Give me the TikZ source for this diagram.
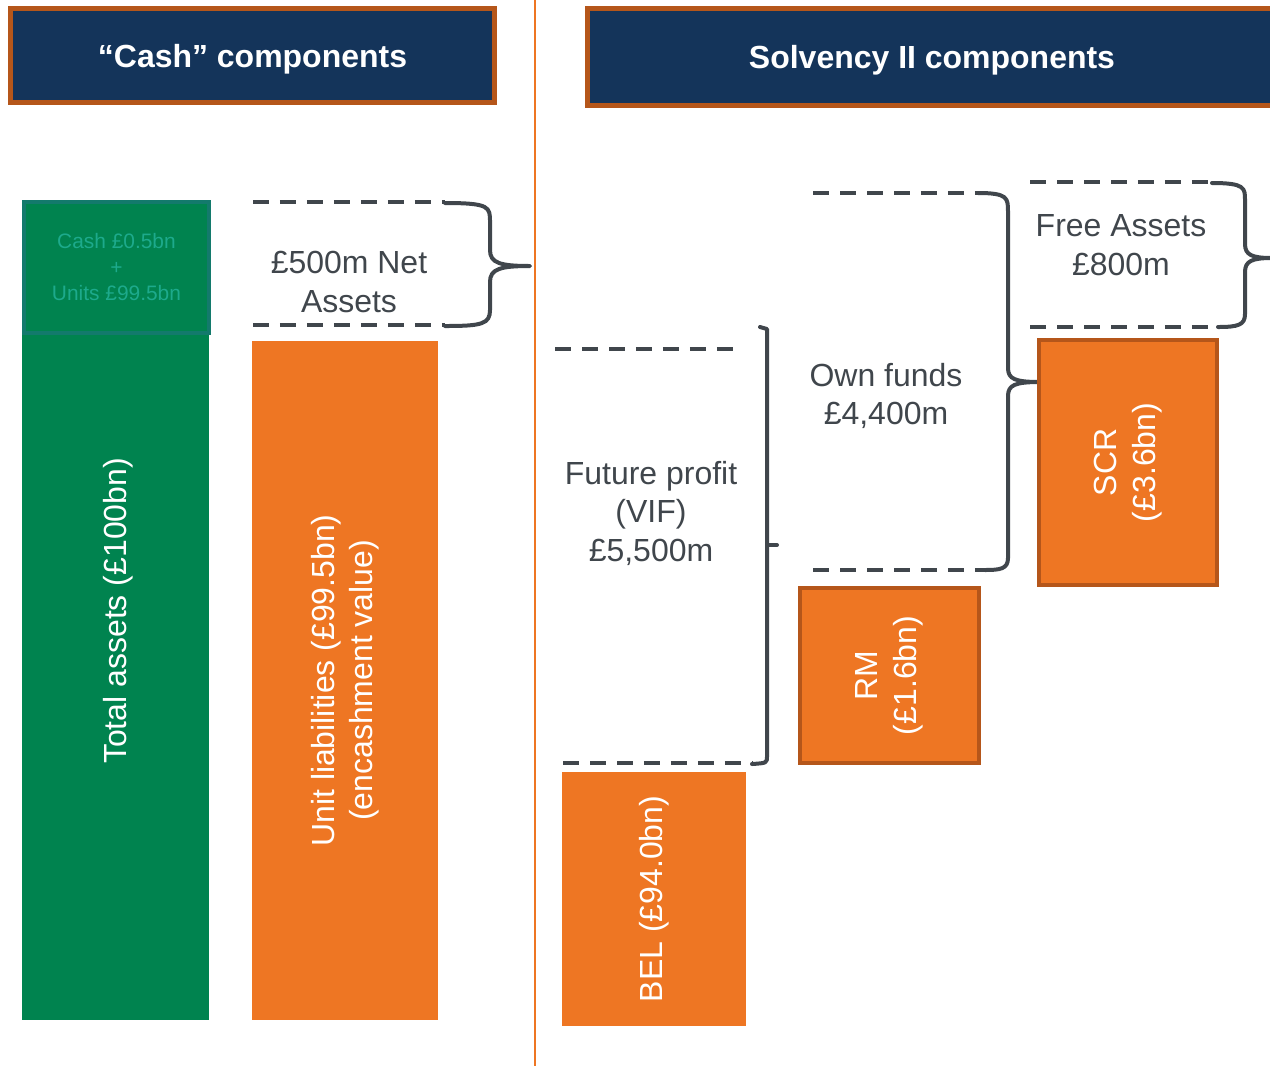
\documentclass[tikz,border=0pt]{standalone}
\usepackage{fontspec}
\setmainfont{Liberation Sans}
\definecolor{navy}{HTML}{14345A}
\definecolor{rust}{HTML}{B5561A}
\definecolor{tangerine}{HTML}{EE7623}
\definecolor{emerald}{HTML}{00834F}
\definecolor{tealedge}{HTML}{137A6C}
\definecolor{tealtext}{HTML}{1DAA8C}
\definecolor{slate}{HTML}{40464C}
\begin{document}
\begin{tikzpicture}[x=0.02cm,y=-0.02cm,
    big/.style={font=\fontsize{18.2pt}{21.9pt}\selectfont},
    header/.style={draw=rust,line width=0.1cm,fill=navy,text=white,text depth=0pt,
      font=\fontsize{18.2pt}{21.9pt}\selectfont\bfseries},
    bar/.style={big,text=white,align=center,rotate=90,inner sep=0pt},
    orangebar/.style={bar,fill=tangerine},
    edgedbar/.style={orangebar,draw=rust,line width=0.08cm},
    label/.style={big,text=slate,align=center},
    gap/.style={draw=slate,line width=0.08cm,dash pattern=on 0.32cm off 0.22cm},
    brace/.style={draw=slate,line width=0.08cm,line cap=round,line join=round}]
  \useasboundingbox (0,0) rectangle (1270,1066);
  \clip (0,0) rectangle (1270,1066);
  \draw[tangerine,line width=0.04cm] (535,0) -- (535,1066);

  \node[header,minimum width=9.68cm,minimum height=1.88cm] (hdrcash) at (252.5,55.5) {“Cash” components};
  \node[header,minimum width=13.8cm,minimum height=1.94cm] (hdrsolv) at (932,57) {Solvency II components};

  % cash side
  \node[fill=emerald,draw=tealedge,line width=0.08cm,minimum width=3.7cm,minimum height=2.62cm,
    text=tealtext,align=center,font=\fontsize{11.9pt}{14.8pt}\selectfont] (cashunits) at (116.5,267.5)
    {Cash £0.5bn\\+\\Units £99.5bn};
  \node[bar,fill=emerald,minimum width=13.7cm,minimum height=3.74cm] (total) at (115.5,677.5) {};
  \node[bar] (totaltxt) at (118,611) {Total assets (£100bn)};
  \node[orangebar,minimum width=13.58cm,minimum height=3.72cm] (unitliab) at (345,680.5)
    {Unit liabilities (£99.5bn)\\(encashment value)};
  \node[label] (netassets) at (349,282) {£500m Net\\Assets};
  \coordinate (nettip) at (530,266);
  \draw[gap] (253,202) -- (445,202);
  \draw[gap] (253,325) -- (445,325);
  \draw[brace] (445,203) .. controls (490,203) and (490,207) .. (490,222) -- (490,250)
    .. controls (490,263) and (500,266) .. (nettip) .. controls (500,266) and (490,269) .. (490,282)
    -- (490,310) .. controls (490,324) and (482,326) .. (445,326);

  % solvency side
  \node[orangebar,minimum width=5.08cm,minimum height=3.68cm] (bel) at (654,899) {BEL (£94.0bn)};
  \node[label] (vif) at (651,513) {Future profit\\(VIF)\\£5,500m};
  \coordinate (viftip) at (777,545);
  \draw[gap] (555,349) -- (740,349);
  \draw[gap] (563,763) -- (752,763);
  \draw[brace] (760,327) -- (767,329) -- (767,756) .. controls (767,763) .. (752,764);
  \draw[brace] (767,545) -- (viftip);

  \node[edgedbar,minimum width=3.5cm,minimum height=3.58cm] (rm) at (889.5,675.5) {RM\\(£1.6bn)};
  \node[label] (ownfunds) at (886,396) {Own funds\\£4,400m};
  \coordinate (owntip) at (1040,382);
  \draw[gap] (813,193) -- (978,193);
  \draw[gap] (813,570) -- (985,570);
  \draw[brace] (978,193) .. controls (1008,193) and (1008,198) .. (1008,212) -- (1008,368)
    .. controls (1008,379) and (1015,382) .. (owntip) .. controls (1015,382) and (1008,385) .. (1008,396)
    -- (1008,558) .. controls (1008,569) and (1000,570) .. (985,570);

  \node[edgedbar,minimum width=4.9cm,minimum height=3.56cm] (scr) at (1128,462.5) {SCR\\(£3.6bn)};
  \node[label] (free) at (1121,245) {Free Assets\\£800m};
  \coordinate (freetip) at (1272,258);
  \draw[gap] (1030,182) -- (1212,182);
  \draw[gap] (1030,327) -- (1218,327);
  \draw[brace] (1212,183) .. controls (1245,183) and (1245,188) .. (1245,200) -- (1245,244)
    .. controls (1245,255) and (1252,258) .. (freetip) .. controls (1252,258) and (1245,261) .. (1245,272)
    -- (1245,314) .. controls (1245,325) and (1238,327) .. (1218,327);
\end{tikzpicture}
\end{document}
